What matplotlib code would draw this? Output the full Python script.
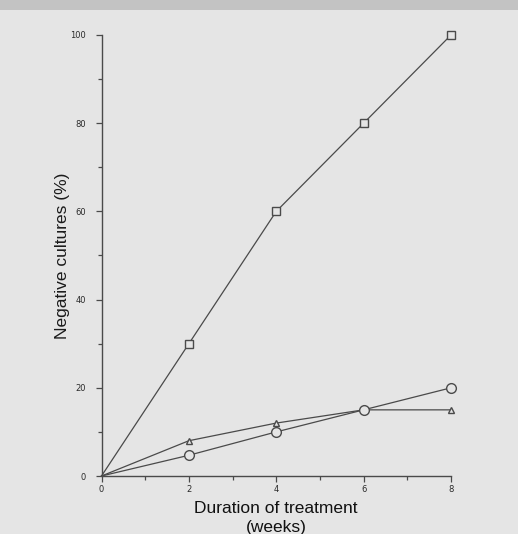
import matplotlib
matplotlib.use("Agg")
import matplotlib.pyplot as plt
import matplotlib.patches as mpatches
from matplotlib.ticker import MultipleLocator

weeks = [0, 2, 4, 6, 8]
squares = [0, 30, 60, 80, 100]
triangles = [0, 8, 12, 15, 15]
circles = [0, 4.7, 10, 15, 20]

bg = "#e5e5e5"
ink = "#4a4a4a"

fig = plt.figure(figsize=(5.18, 5.34), dpi=100, facecolor=bg)
fig.patches.append(mpatches.Rectangle((0, 1 - 10 / 534), 1, 10 / 534, transform=fig.transFigure,
                                      facecolor="#c3c3c3", edgecolor="none", zorder=0))
ax = fig.add_axes([101.5 / 518, 1 - 476 / 534, (451 - 101.5) / 518, (476 - 35) / 534])
ax.set_facecolor(bg)

common = dict(color=ink, lw=0.9, markevery=[1, 2, 3, 4], markerfacecolor=bg,
              markeredgecolor=ink, clip_on=False)
ax.plot(weeks, squares, marker="s", ms=6, mew=1.0, **common)
ax.plot(weeks, triangles, marker="^", ms=4.5, mew=1.0, **common)
ax.plot(weeks, circles, marker="o", ms=7, mew=1.0, **common)

ax.set_xlim(0, 8)
ax.set_ylim(0, 100)
for s in ["top", "right"]:
    ax.spines[s].set_visible(False)
for s in ["left", "bottom"]:
    ax.spines[s].set_color(ink)
    ax.spines[s].set_linewidth(1.0)

ax.xaxis.set_major_locator(MultipleLocator(2))
ax.xaxis.set_minor_locator(MultipleLocator(1))
ax.yaxis.set_major_locator(MultipleLocator(20))
ax.yaxis.set_minor_locator(MultipleLocator(10))
ax.tick_params(which="both", direction="out", color=ink, width=0.9, labelsize=6,
               labelcolor="#2a2a2a")
ax.tick_params(which="major", length=4)
ax.tick_params(axis="x", which="major", pad=2.5)
ax.tick_params(axis="y", which="major", pad=7)
ax.tick_params(which="minor", length=3)

ax.set_ylabel("Negative cultures (%)", fontsize=12.5, family="Liberation Sans",
              color="#1a1a1a")
ax.yaxis.set_label_coords(-0.09, 0.5)
ax.set_xlabel("Duration of treatment\n(weeks)", fontsize=12.5, family="Liberation Sans",
              color="#111111", labelpad=5, linespacing=1.35)

fig.savefig("out.png", dpi=100, facecolor=bg)
